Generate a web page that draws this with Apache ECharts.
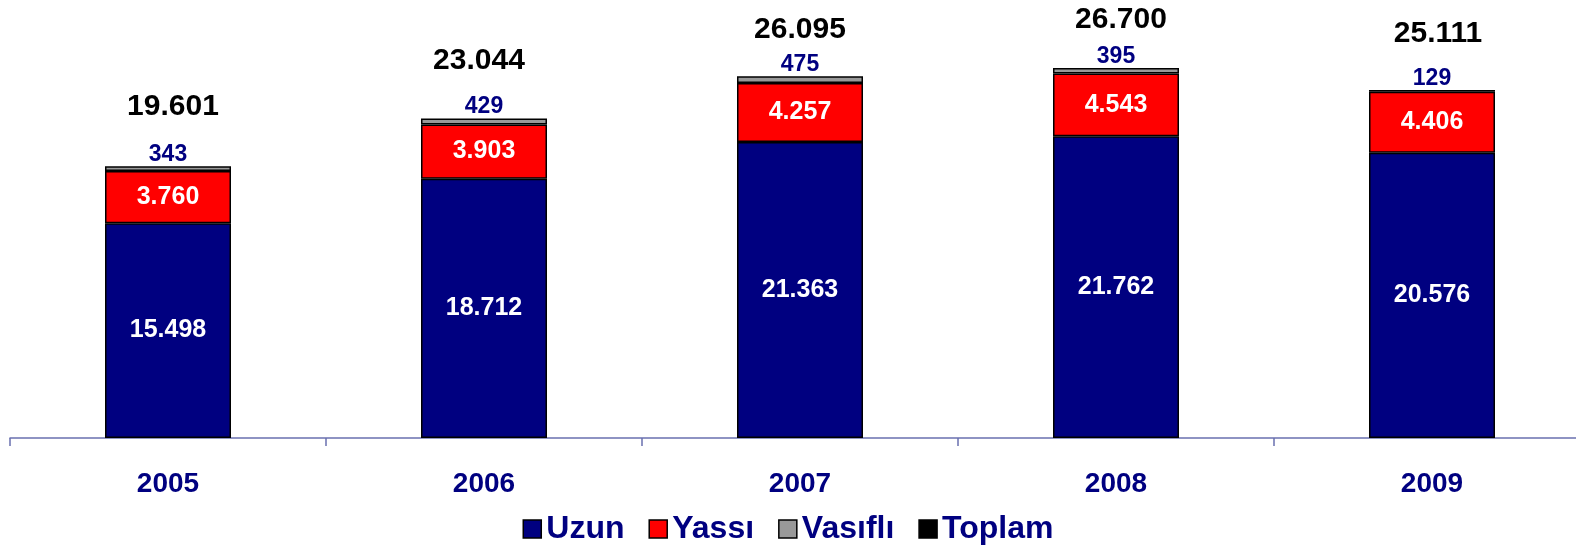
<!DOCTYPE html>
<html>
<head>
<meta charset="utf-8">
<script src="https://cdn.jsdelivr.net/npm/echarts@6/dist/echarts.min.js"></script>
<style>
  html, body { margin: 0; padding: 0; background: #fff; }
  #chart { width: 1576px; height: 550px; }
</style>
</head>
<body>
<div id="chart"></div>
<script>
var years = ['2005', '2006', '2007', '2008', '2009'];
var uzun = [15498, 18712, 21363, 21762, 20576];
var yassi = [3760, 3903, 4257, 4543, 4406];
var vasifli = [343, 429, 475, 395, 129];
var toplam = [19601, 23044, 26095, 26700, 25111];

var navy = '#000080';

// the totals sit a little unevenly above each bar in the original
var toplamGap = [45, 43, 32, 33, 41];
var toplamShift = [5, -5, 0, 5, 6];

function fmt(v) {
    return String(v).replace(/\B(?=(\d{3})+(?!\d))/g, '.');
}

var chart = echarts.init(document.getElementById('chart'));

var font = 'Liberation Sans, Arial, sans-serif';

var option = {
    animation: false,
    textStyle: { fontFamily: font },
    grid: {
        left: 10,
        top: 0,
        width: 1580,
        bottom: 112,
        outerBoundsMode: 'none'
    },
    legend: {
        top: 508,
        left: 'center',
        itemWidth: 18,
        itemHeight: 18,
        itemGap: 24,
        icon: 'rect',
        textStyle: { color: navy, fontSize: 32, fontWeight: 'bold', fontFamily: font },
        data: [
            { name: 'Uzun', itemStyle: { color: navy, borderColor: '#000', borderWidth: 1.5 } },
            { name: 'Yassı', itemStyle: { color: '#ff0000', borderColor: '#000', borderWidth: 1.5 } },
            { name: 'Vasıflı', itemStyle: { color: '#999999', borderColor: '#000', borderWidth: 1.5 } },
            { name: 'Toplam', itemStyle: { color: '#000', borderColor: '#000', borderWidth: 1.5 } }
        ]
    },
    xAxis: {
        type: 'category',
        data: years,
        axisLine: { lineStyle: { color: '#6a70b0', width: 1.5 } },
        axisTick: { show: true, length: 8, lineStyle: { color: '#6a70b0', width: 1.5 } },
        axisLabel: {
            color: navy,
            fontSize: 28,
            fontWeight: 'bold',
            margin: 32
        }
    },
    yAxis: {
        type: 'value',
        min: 0,
        max: 31600,
        show: false,
        splitLine: { show: false }
    },
    series: [
        {
            name: 'Uzun',
            type: 'bar',
            stack: 'a',
            barWidth: 126,
            barGap: '-100%',
            data: uzun,
            itemStyle: { color: navy, borderColor: '#000', borderWidth: 1.5 },
            label: {
                show: true,
                position: 'inside',
                color: '#fff',
                fontSize: 25,
                fontWeight: 'bold',
                formatter: function (p) { return fmt(p.value); }
            }
        },
        {
            name: 'Yassı',
            type: 'bar',
            stack: 'a',
            barWidth: 126,
            barGap: '-100%',
            data: yassi,
            itemStyle: { color: '#ff0000', borderColor: '#000', borderWidth: 1.5 },
            label: {
                show: true,
                position: 'inside',
                color: '#fff',
                fontSize: 25,
                fontWeight: 'bold',
                formatter: function (p) { return fmt(p.value); }
            }
        },
        {
            name: 'Vasıflı',
            type: 'bar',
            stack: 'a',
            barWidth: 126,
            barGap: '-100%',
            data: vasifli,
            itemStyle: { color: '#999999', borderColor: '#000', borderWidth: 1.5 },
            label: {
                show: true,
                position: 'top',
                distance: 0,
                color: navy,
                fontSize: 23,
                fontWeight: 'bold',
                formatter: function (p) { return fmt(p.value); }
            }
        },
        {
            name: 'Toplam',
            type: 'bar',
            barWidth: 126,
            barGap: '-100%',
            z: 1,
            data: toplam.map(function (v, i) {
                return { value: v, label: { distance: toplamGap[i], offset: [toplamShift[i], 0] } };
            }),
            itemStyle: { color: 'rgba(0,0,0,0)' },
            label: {
                show: true,
                position: 'top',
                color: '#000',
                fontSize: 30,
                fontWeight: 'bold',
                formatter: function (p) { return fmt(p.value); }
            }
        }
    ]
};

chart.setOption(option);
</script>
</body>
</html>
